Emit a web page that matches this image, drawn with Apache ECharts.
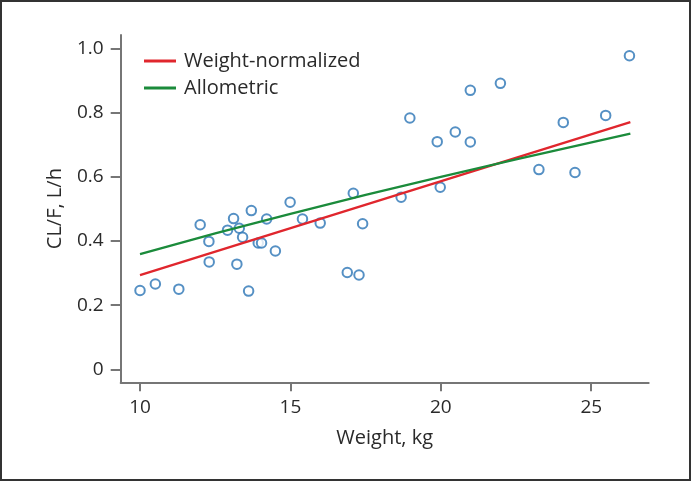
<!DOCTYPE html>
<html><head><meta charset="utf-8">
<script src="https://cdn.jsdelivr.net/npm/echarts@6/dist/echarts.min.js"></script>
<style>html,body{margin:0;padding:0;background:#fff}#c{width:693px;height:482px}</style>
</head><body><div id="c"></div>
<script>
const weights = [10.0,10.51,11.29,12.0,12.29,12.3,12.91,13.11,13.3,13.22,13.41,13.7,13.61,13.93,14.04,14.21,14.5,14.99,15.4,15.99,16.89,17.28,17.09,17.4,18.68,18.97,19.88,19.98,20.48,20.98,20.98,21.98,23.26,24.07,24.46,25.48,26.27];
const clf = [0.246,0.266,0.250,0.451,0.399,0.335,0.434,0.470,0.440,0.328,0.412,0.495,0.244,0.394,0.394,0.469,0.369,0.521,0.469,0.456,0.302,0.294,0.549,0.454,0.537,0.784,0.710,0.568,0.740,0.870,0.709,0.892,0.623,0.770,0.614,0.792,0.978];
const wnX = [10, 26.3];
const wnY = [0.294, 0.771];
const alX = [10, 12.5, 15, 17.5, 20, 22.5, 26.3];
const alY = [0.359, 0.424, 0.485, 0.544, 0.600, 0.655, 0.735];
const xTicks = [10, 15, 20, 25];
const yTicks = [0, 0.2, 0.4, 0.6, 0.8, 1.0];
const seriesNames = ['Weight-normalized', 'Allometric'];

const zip = (a, b) => a.map((v, i) => [v, b[i]]);
const FONT = '"Open Sans", "Noto Sans", sans-serif';
const axisCol = '#767676';
const txtCol = '#2a2a2a';
const chart = echarts.init(document.getElementById('c'));
chart.setOption({
  animation: false,
  grid: {left: 120.7, right: 44.3, top: 35, bottom: 99.7},
  graphic: [{type: 'rect', shape: {x: 1, y: 1, width: 689, height: 479}, style: {fill: 'none', stroke: '#333', lineWidth: 2}, silent: true}],
  legend: {
    data: seriesNames, orient: 'vertical', left: 139, top: 46, itemWidth: 32, itemHeight: 3, itemGap: 7,
    icon: 'rect', textStyle: {fontFamily: FONT, fontSize: 20, color: txtCol, padding: [0, 0, 0, 3]}
  },
  xAxis: {
    type: 'value', min: 9.358, max: 26.91,
    name: 'Weight, kg', nameLocation: 'middle', nameGap: 46,
    nameTextStyle: {fontFamily: FONT, fontSize: 20, color: txtCol},
    axisLine: {show: true, onZero: false, lineStyle: {color: axisCol, width: 2}},
    axisTick: {show: true, length: 9, customValues: xTicks, lineStyle: {color: axisCol, width: 2}},
    axisLabel: {customValues: xTicks, margin: 16, fontFamily: FONT, fontSize: 19, color: txtCol},
    splitLine: {show: false}
  },
  yAxis: {
    type: 'value', min: -0.0405, max: 1.0427,
    name: 'CL/F, L/h', nameLocation: 'middle', nameGap: 55, nameRotate: 90,
    nameTextStyle: {fontFamily: FONT, fontSize: 20, color: txtCol},
    axisLine: {show: true, onZero: false, lineStyle: {color: axisCol, width: 2}},
    axisTick: {show: true, length: 10, customValues: yTicks, lineStyle: {color: axisCol, width: 2}},
    axisLabel: {customValues: yTicks, margin: 17, fontFamily: FONT, fontSize: 19, color: txtCol,
      formatter: v => (v === 0 ? '0' : v.toFixed(1))},
    splitLine: {show: false}
  },
  series: [
    {type: 'scatter', name: 'obs', data: zip(weights, clf), symbol: 'circle', symbolSize: 9.5,
      itemStyle: {color: '#fff', borderColor: '#2a74b5', borderWidth: 2}, z: 2},
    {type: 'line', name: seriesNames[0], data: zip(wnX, wnY), symbol: 'none', smooth: false,
      color: '#e0262d', lineStyle: {color: '#e0262d', width: 2.3}, z: 3},
    {type: 'line', name: seriesNames[1], data: zip(alX, alY), symbol: 'none', smooth: false,
      color: '#1b8b3b', lineStyle: {color: '#1b8b3b', width: 2.3}, z: 3}
  ]
});
</script></body></html>
